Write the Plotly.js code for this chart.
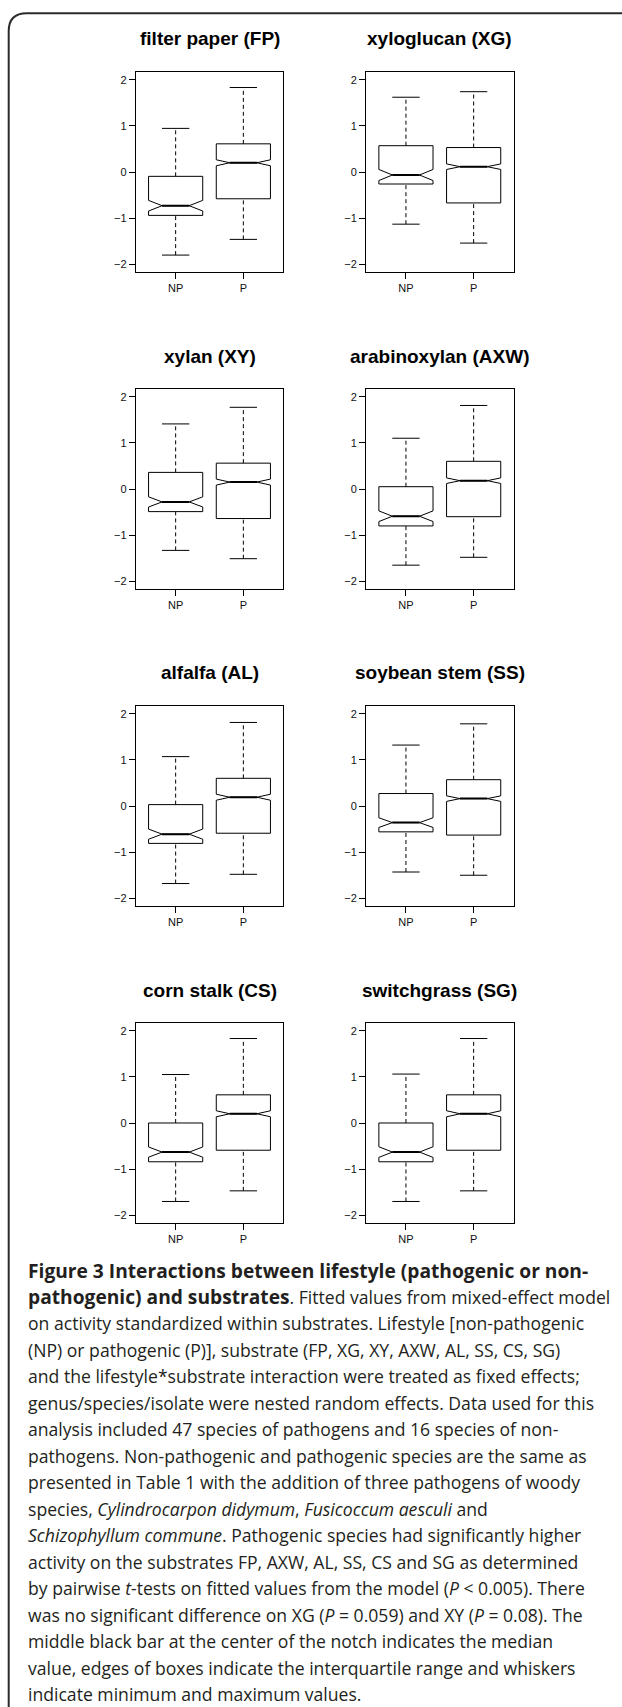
<!DOCTYPE html>
<html><head><meta charset="utf-8">
<script src="https://cdn.plot.ly/plotly-3.0.1.min.js"></script>
<style>html,body{margin:0;padding:0;background:#fff}#chart{width:622px;height:1707px}</style>
</head><body><div id="chart"></div>
<script>
// ---------- data ----------
const groups = ['NP', 'P'];
const panelTitles = ['filter paper (FP)', 'xyloglucan (XG)', 'xylan (XY)', 'arabinoxylan (AXW)',
                     'alfalfa (AL)', 'soybean stem (SS)', 'corn stalk (CS)', 'switchgrass (SG)'];
// each entry: [NP, P]
const lowerWhisker = [[-1.80,-1.46],[-1.13,-1.54],[-1.33,-1.51],[-1.65,-1.48],[-1.68,-1.48],[-1.43,-1.50],[-1.70,-1.47],[-1.70,-1.47]];
const q1Vals       = [[-0.94,-0.58],[-0.26,-0.67],[-0.49,-0.64],[-0.80,-0.60],[-0.81,-0.59],[-0.56,-0.63],[-0.84,-0.59],[-0.84,-0.59]];
const medianVals   = [[-0.73, 0.20],[-0.065,0.115],[-0.28,0.15],[-0.59,0.18],[-0.61,0.19],[-0.36,0.16],[-0.63,0.20],[-0.63,0.20]];
const q3Vals       = [[-0.094,0.61],[0.57,0.53],[0.36,0.56],[0.05,0.60],[0.03,0.60],[0.27,0.57],[0.00,0.61],[0.00,0.61]];
const upperWhisker = [[0.945,1.83],[1.62,1.74],[1.41,1.77],[1.10,1.81],[1.07,1.81],[1.32,1.78],[1.05,1.83],[1.06,1.83]];
const notchSpan    = [[0.115,0.065],[0.12,0.06],[0.11,0.065],[0.115,0.06],[0.11,0.065],[0.105,0.06],[0.11,0.065],[0.115,0.065]];
const yTicks = [-2, -1, 0, 1, 2];

const B = s => '<span style="font-size:19.2px"><b>' + s + '</b></span>';
const captionLines = [
  B('Figure 3 Interactions between lifestyle (pathogenic or non-'),
  B('pathogenic) and substrates') + '. Fitted values from mixed-effect model',
  'on activity standardized within substrates. Lifestyle [non-pathogenic',
  '(NP) or pathogenic (P)], substrate (FP, XG, XY, AXW, AL, SS, CS, SG)',
  'and the lifestyle*substrate interaction were treated as fixed effects;',
  'genus/species/isolate were nested random effects. Data used for this',
  'analysis included 47 species of pathogens and 16 species of non-',
  'pathogens. Non-pathogenic and pathogenic species are the same as',
  'presented in Table 1 with the addition of three pathogens of woody',
  'species, <i>Cylindrocarpon didymum</i>, <i>Fusicoccum aesculi</i> and',
  '<i>Schizophyllum commune</i>. Pathogenic species had significantly higher',
  'activity on the substrates FP, AXW, AL, SS, CS and SG as determined',
  'by pairwise <i>t</i>-tests on fitted values from the model (<i>P</i> &lt; 0.005). There',
  'was no significant difference on XG (<i>P</i> = 0.059) and XY (<i>P</i> = 0.08). The',
  'middle black bar at the center of the notch indicates the median',
  'value, edges of boxes indicate the interquartile range and whiskers',
  'indicate minimum and maximum values.'
];

// ---------- layout geometry ----------
const W = 622, H = 1707;
const colLeft = [135.7, 366.0], panelW = 147.6, panelH = 199.4;
const rowTop = [72.3, 389.3, 706.3, 1023.3];
const px2x = p => p / W, px2y = p => 1 - p / H;

const traces = [];
const layout = {
  width: W, height: H, margin: {l: 0, r: 0, t: 0, b: 0},
  paper_bgcolor: '#fff', plot_bgcolor: '#fff', showlegend: false,
  annotations: [], shapes: []
};
const tickFont = {family: 'Liberation Sans, Arial, sans-serif', size: 11, color: '#111'};

panelTitles.forEach((title, k) => {
  const i = k + 1, row = Math.floor(k / 2), col = k % 2;
  const left = colLeft[col], top = rowTop[row];
  const xa = 'x' + i, ya = 'y' + i;
  layout['xaxis' + i] = {
    domain: [px2x(left), px2x(left + panelW)], anchor: ya, type: 'category',
    range: [-0.59, 1.59], showline: true, mirror: true, linecolor: '#000', linewidth: 1,
    ticks: 'outside', ticklen: 6, tickcolor: '#000', tickwidth: 1,
    showgrid: false, zeroline: false, tickfont: tickFont, fixedrange: true
  };
  layout['yaxis' + i] = {
    domain: [px2y(top + panelH), px2y(top)], anchor: xa,
    range: [-2.16, 2.16], tickvals: yTicks, showline: true, mirror: true,
    linecolor: '#000', linewidth: 1, ticks: 'outside', ticklen: 6, tickcolor: '#000', tickwidth: 1,
    showgrid: false, zeroline: false, tickfont: tickFont, fixedrange: true
  };
  // box (no whiskers; they are drawn dashed below)
  traces.push({
    type: 'box', x: groups, q1: q1Vals[k], median: medianVals[k], q3: q3Vals[k],
    lowerfence: q1Vals[k], upperfence: q3Vals[k],
    notched: true, notchspan: notchSpan[k], notchwidth: 0.25,
    width: 0.8, whiskerwidth: 0, fillcolor: '#fff',
    line: {color: '#000', width: 1}, boxpoints: false, hoverinfo: 'skip',
    xaxis: xa, yaxis: ya
  });
  // dashed whiskers
  const wx = [], wy = [];
  groups.forEach((g, j) => {
    wx.push(g, g, null, g, g, null);
    wy.push(q3Vals[k][j], upperWhisker[k][j], null, lowerWhisker[k][j], q1Vals[k][j], null);
  });
  traces.push({
    type: 'scatter', mode: 'lines', x: wx, y: wy, connectgaps: false,
    line: {color: '#000', width: 1, dash: '4px,3px'}, hoverinfo: 'skip', xaxis: xa, yaxis: ya
  });
  // whisker caps
  const cx = [], cy = [];
  groups.forEach((g, j) => { cx.push(g, g); cy.push(upperWhisker[k][j], lowerWhisker[k][j]); });
  traces.push({
    type: 'scatter', mode: 'markers', x: cx, y: cy,
    marker: {symbol: 'line-ew', size: 19.5, color: '#000', line: {color: '#000', width: 1}},
    hoverinfo: 'skip', xaxis: xa, yaxis: ya
  });
  // thick median bars
  traces.push({
    type: 'scatter', mode: 'markers', x: groups, y: medianVals[k],
    marker: {symbol: 'line-ew', size: 19.5, color: '#000', line: {color: '#000', width: 2}},
    hoverinfo: 'skip', xaxis: xa, yaxis: ya
  });
  // panel title
  layout.annotations.push({
    xref: 'paper', yref: 'paper', x: px2x(left + panelW / 2), y: px2y(top - 33.3),
    xanchor: 'center', yanchor: 'middle', showarrow: false, text: title,
    font: {family: 'Liberation Sans, Arial, sans-serif', size: 19, color: '#000', weight: 'bold'}
  });
});

// caption
captionLines.forEach((t, i) => {
  layout.annotations.push({
    xref: 'paper', yref: 'paper', x: px2x(25.8), y: px2y(1270 + i * 26.5),
    xanchor: 'left', yanchor: 'middle', showarrow: false, align: 'left', text: t,
    font: {family: 'Open Sans, sans-serif', size: 17.6, color: '#231f20'}
  });
});

// rounded frame (top + left only)
const bx = 8.7, by = 13.3, r = 18;
layout.shapes.push({
  type: 'path', xref: 'paper', yref: 'paper', layer: 'above',
  path: `M ${px2x(bx)},${px2y(H + 2)} L ${px2x(bx)},${px2y(by + r)} Q ${px2x(bx)},${px2y(by)} ${px2x(bx + r)},${px2y(by)} L ${px2x(W + 2)},${px2y(by)}`,
  line: {color: '#2b2b2b', width: 2}
});

Plotly.newPlot('chart', traces, layout, {displayModeBar: false, staticPlot: true});
</script>
</body></html>
